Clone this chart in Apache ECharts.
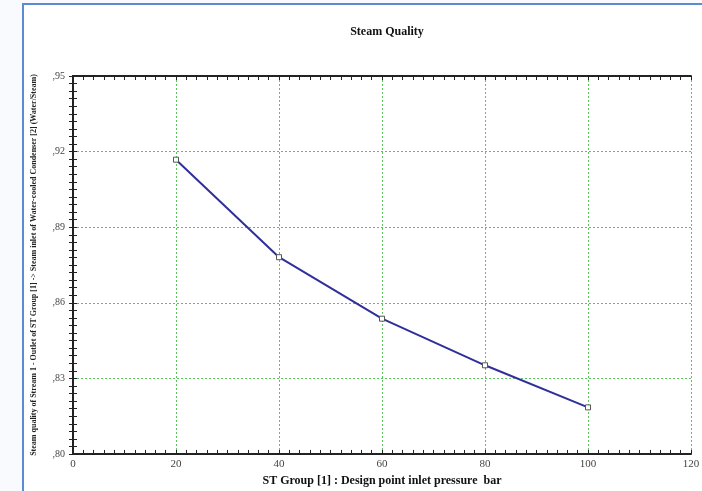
<!DOCTYPE html>
<html>
<head>
<meta charset="utf-8">
<script src="https://cdn.jsdelivr.net/npm/echarts@6/dist/echarts.min.js"></script>
<style>
  html, body { margin: 0; padding: 0; background: #f8fafd; }
  #chart { width: 702px; height: 491px; }
</style>
</head>
<body>
<div id="chart"></div>
<script>
// pressure (bar) and steam quality
var pressure = [20, 40, 60, 80, 100];
var quality = [0.9168, 0.8781, 0.8537, 0.8352, 0.8185];

var serif = '"Liberation Serif", "DejaVu Serif", serif';
var data = pressure.map(function (p, i) { return [p, quality[i]]; });

function yLabel(v) {
  return ',' + v.toFixed(2).split('.')[1];
}

var tick = { inside: true, length: 4, lineStyle: { color: '#222' } };
var minor = { show: true, splitNumber: 10, length: 4, lineStyle: { color: '#222' } };
var grid = { show: true, lineStyle: { color: '#5cc45c', type: [2, 2], width: 1 } };

var chart = echarts.init(document.getElementById('chart'));
var option = {
  backgroundColor: 'transparent',
  animation: false,
  title: {
    text: 'Steam Quality',
    left: 382,
    top: 21,
    textAlign: 'center',
    textStyle: { fontFamily: serif, fontSize: 12, fontWeight: 'bold', color: '#111' }
  },
  graphic: [{
    type: 'rect',
    z: -10,
    shape: { x: 23, y: 4, width: 720, height: 520 },
    style: { fill: '#fff', stroke: '#5b8bd2', lineWidth: 2 }
  }],
  grid: { left: 73, right: 11, top: 76, bottom: 37, outerBoundsMode: 'none' },
  xAxis: [{
    type: 'value',
    min: 0, max: 120, interval: 20,
    name: 'ST Group [1] : Design point inlet pressure  bar',
    nameLocation: 'middle',
    nameGap: 16,
    nameTextStyle: { fontFamily: serif, fontSize: 12, fontWeight: 'bold', color: '#111' },
    axisLine: { lineStyle: { color: '#222', width: 2 } },
    axisTick: tick,
    minorTick: minor,
    axisLabel: { fontFamily: serif, fontSize: 11, color: '#444', margin: 5 },
    splitLine: grid
  }, {
    type: 'value', position: 'top',
    min: 0, max: 120, interval: 20,
    axisLine: { lineStyle: { color: '#222', width: 2 } },
    axisTick: tick,
    minorTick: minor,
    axisLabel: { show: false },
    splitLine: { show: false }
  }],
  yAxis: [{
    type: 'value',
    min: 0.80, max: 0.95, interval: 0.03,
    name: 'Steam quality of Stream 1 - Outlet of ST Group [1] -> Steam inlet of Water-cooled Condenser [2] (Water/Steam)',
    nameLocation: 'middle',
    nameGap: 35,
    nameTextStyle: { fontFamily: serif, fontSize: 8, fontWeight: 'bold', color: '#222' },
    axisLine: { show: true, lineStyle: { color: '#222', width: 2 } },
    axisTick: tick,
    minorTick: minor,
    axisLabel: { fontFamily: serif, fontSize: 10, color: '#444', margin: 8, formatter: yLabel },
    splitLine: grid
  }, {
    type: 'value', position: 'right',
    min: 0.80, max: 0.95, interval: 0.03,
    axisLine: { show: true, lineStyle: { color: '#222', width: 2 } },
    axisTick: tick,
    minorTick: minor,
    axisLabel: { show: false },
    splitLine: { show: false }
  }],
  series: [{
    type: 'line',
    data: data,
    symbol: 'rect',
    symbolSize: 5,
    showAllSymbol: true,
    lineStyle: { color: '#2f2f9c', width: 2 },
    itemStyle: { color: '#fff', borderColor: '#555', borderWidth: 1 }
  }]
};
chart.setOption(option);
</script>
</body>
</html>
